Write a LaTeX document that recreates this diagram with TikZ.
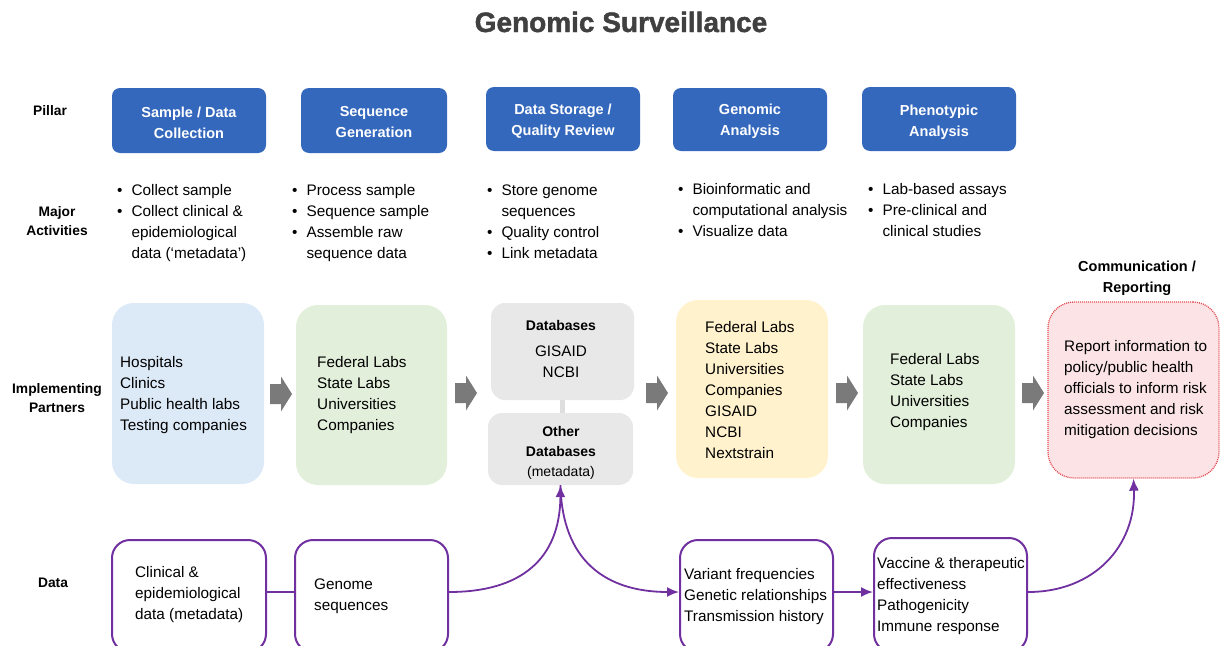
\documentclass[tikz,border=0pt]{standalone}
\usepackage{fontspec}
\setmainfont{Liberation Sans}
\newfontfamily\titlefont[BoldFeatures={FakeBold=1.6}]{Liberation Sans}
\usetikzlibrary{arrows.meta,calc}

\definecolor{titlegray}{RGB}{64,64,64}
\definecolor{pillarblue}{RGB}{52,104,189}
\definecolor{partblue}{RGB}{220,233,246}
\definecolor{partgreen}{RGB}{226,239,218}
\definecolor{partgray}{RGB}{232,232,232}
\definecolor{linkgray}{RGB}{222,222,222}
\definecolor{partyellow}{RGB}{255,242,204}
\definecolor{partpink}{RGB}{252,228,230}
\definecolor{reddot}{RGB}{228,72,80}
\definecolor{arrowgray}{RGB}{122,122,122}
\definecolor{datapurple}{RGB}{112,48,160}

\newcommand\bodyfont{\fontsize{15.3}{21}\selectfont}
\newcommand\headfont{\fontsize{14.5}{21}\selectfont\bfseries}
\newcommand\rowfont{\fontsize{13.8}{19}\selectfont\bfseries}
\newcommand\linesL[1]{\begin{tabular}[t]{@{}l@{}}#1\end{tabular}}
\newcommand\linesC[1]{\begin{tabular}[t]{@{}c@{}}#1\end{tabular}}
\newcommand\bulletsL[1]{\begin{tabular}[t]{@{}l@{\hspace{9pt}}l@{}}#1\end{tabular}}
% grey block arrow centred on a point
\newcommand\blockarrow[1]{%
  \fill[arrowgray] (#1) ++(-11,-10) -- ++(11,0) -- ++(0,-7.5) -- ++(11,17.5)
    -- ++(-11,17.5) -- ++(0,-7.5) -- ++(-11,0) -- cycle;}

\tikzset{
  pillar/.style={rectangle, rounded corners=8pt, fill=pillarblue, inner sep=0pt},
  pillartext/.style={text=white, font=\headfont, align=center, inner sep=0pt},
  partner/.style={rectangle, rounded corners=22pt, inner sep=0pt},
  databox/.style={rectangle, rounded corners=18pt, draw=datapurple, line width=2pt,
    fill=white, inner sep=0pt},
  flow/.style={draw=datapurple, line width=1.8pt, -{Latex[length=12pt,width=10pt]}},
  txt/.style={anchor=base west, inner sep=0pt, font=\bodyfont},
  rowlabel/.style={anchor=base, inner sep=0pt, font=\rowfont},
}

\begin{document}
\begin{tikzpicture}[x=1pt,y=-1pt]
\useasboundingbox (0,0) rectangle (1220,645);
\clip (0,0) rectangle (1220,645);

% title
\node[anchor=base, inner sep=0pt, text=titlegray, font=\titlefont\fontsize{28}{30}\selectfont\bfseries]
  (title) at (621,32) {Genomic Surveillance};

% row labels
\node[rowlabel] (lpillar) at (50,115) {Pillar};
\node[rowlabel] (lact) at (57,216) {\linesC{Major\\Activities}};
\node[rowlabel] (lpart) at (57,393) {\linesC{Implementing\\Partners}};
\node[rowlabel] (ldata) at (53,587) {Data};

% pillars
\node[pillar, minimum width=154pt, minimum height=65pt] (p1) at (189,120.5) {};
\node[pillar, minimum width=146pt, minimum height=65pt] (p2) at (374,120.5) {};
\node[pillar, minimum width=154pt, minimum height=64pt] (p3) at (563,119) {};
\node[pillar, minimum width=154pt, minimum height=63pt] (p4) at (750,119.5) {};
\node[pillar, minimum width=154pt, minimum height=64pt] (p5) at (939,119) {};
\node[pillartext] (pt1) at ([yshift=-2pt]p1.center) {Sample / Data\\Collection};
\node[pillartext] (pt2) at ([yshift=-2pt]p2.center) {Sequence\\Generation};
\node[pillartext] (pt3) at ([yshift=-2.5pt]p3.center) {Data Storage /\\Quality Review};
\node[pillartext] (pt4) at ([yshift=-2pt]p4.center) {Genomic\\Analysis};
\node[pillartext] (pt5) at ([yshift=-3pt]p5.center) {Phenotypic\\Analysis};

% major activities
\node[txt] (a1) at (117,195) {\bulletsL{\textbullet & Collect sample\\ \textbullet & Collect clinical \&\\ & epidemiological\\ & data (‘metadata’)}};
\node[txt] (a2) at (292,195) {\bulletsL{\textbullet & Process sample\\ \textbullet & Sequence sample\\ \textbullet & Assemble raw\\ & sequence data}};
\node[txt] (a3) at (487,195) {\bulletsL{\textbullet & Store genome\\ & sequences\\ \textbullet & Quality control\\ \textbullet & Link metadata}};
\node[txt] (a4) at (678,194) {\bulletsL{\textbullet & Bioinformatic and\\ & computational analysis\\ \textbullet & Visualize data}};
\node[txt] (a5) at (868,194) {\bulletsL{\textbullet & Lab-based assays\\ \textbullet & Pre-clinical and\\ & clinical studies}};

% implementing partners
\node[partner, fill=partblue, minimum width=152pt, minimum height=181pt] (i1) at (188,393.5) {};
\node[partner, fill=partgreen, minimum width=151pt, minimum height=180pt] (i2) at (371.5,395) {};
\node[partner, rounded corners=14pt, fill=partgray, minimum width=143pt, minimum height=97pt] (dbt) at (562.5,351.5) {};
\node[partner, rounded corners=14pt, fill=partgray, minimum width=145pt, minimum height=72pt] (dbb) at (560.5,449) {};
\node[partner, fill=partyellow, minimum width=152pt, minimum height=178pt] (i4) at (752,389) {};
\node[partner, fill=partgreen, minimum width=152pt, minimum height=179pt] (i5) at (939,394.5) {};
\node[partner, rounded corners=26pt, fill=partpink, draw=reddot, line width=1.3pt,
  dash pattern=on 1pt off 1pt, minimum width=171pt, minimum height=176pt] (comm) at (1133.5,390) {};

\draw[linkgray, line width=5pt] (dbt.south) -- (dbt.south |- dbb.north);

\node[txt] (t1) at (120,367) {\linesL{Hospitals\\Clinics\\Public health labs\\Testing companies}};
\node[txt] (t2) at (317,367) {\linesL{Federal Labs\\State Labs\\Universities\\Companies}};
\node[anchor=base, inner sep=0pt, font=\fontsize{14}{19}\selectfont\bfseries] (tdb) at (561,330) {Databases};
\node[anchor=base, inner sep=0pt, font=\bodyfont] (tdb2) at (561,356) {\linesC{GISAID\\NCBI}};
\node[anchor=base, inner sep=0pt, font=\fontsize{14}{20}\selectfont] (tdb3) at (561,436)
  {\linesC{\bfseries Other\\\bfseries Databases\\(metadata)}};
\node[txt] (t4) at (705,332) {\linesL{Federal Labs\\State Labs\\Universities\\Companies\\GISAID\\NCBI\\Nextstrain}};
\node[txt] (t5) at (890,364) {\linesL{Federal Labs\\State Labs\\Universities\\Companies}};
\node[txt] (tc) at (1064,351) {\linesL{Report information to\\policy/public health\\officials to inform risk\\assessment and risk\\mitigation decisions}};
\node[anchor=base, inner sep=0pt, font=\headfont] (commlabel) at (1137,271) {\linesC{Communication /\\Reporting}};

% block arrows between partners
\blockarrow{281,394}
\blockarrow{466,393}
\blockarrow{657,393}
\blockarrow{847,393}
\blockarrow{1033,393}

% data boxes
\node[databox, minimum width=154pt, minimum height=112pt] (d1) at (189,596) {};
\node[databox, minimum width=153pt, minimum height=112pt] (d2) at (371.5,596) {};
\node[databox, minimum width=153pt, minimum height=112pt] (d3) at (756.5,596) {};
\node[databox, minimum width=153pt, minimum height=114pt] (d4) at (950.5,595) {};

\node[txt] (td1) at (135,577) {\linesL{Clinical \&\\epidemiological\\data (metadata)}};
\node[txt] (td2) at (314,589) {\linesL{Genome\\sequences}};
\node[txt] (td3) at (684,579) {\linesL{Variant frequencies\\Genetic relationships\\Transmission history}};
\node[txt] (td4) at (877,568) {\linesL{Vaccine \& therapeutic\\effectiveness\\Pathogenicity\\Immune response}};

% data flow
\draw[draw=datapurple, line width=1.8pt] ([yshift=4pt]d1.east) -- ([yshift=4pt]d2.west);
\draw[flow] ([yshift=4pt]d2.east) .. controls (520,592) and (560,560) .. (dbb.south);
\draw[flow] (dbb.south) .. controls (562,560) and (605,592) .. ([yshift=4pt]d3.west);
\draw[flow] ([yshift=4pt]d3.east) -- ([yshift=3pt]d4.west);
\draw[flow] ([yshift=3pt]d4.east) .. controls (1095,592) and (1136,545) .. (comm.south);
\end{tikzpicture}
\end{document}
